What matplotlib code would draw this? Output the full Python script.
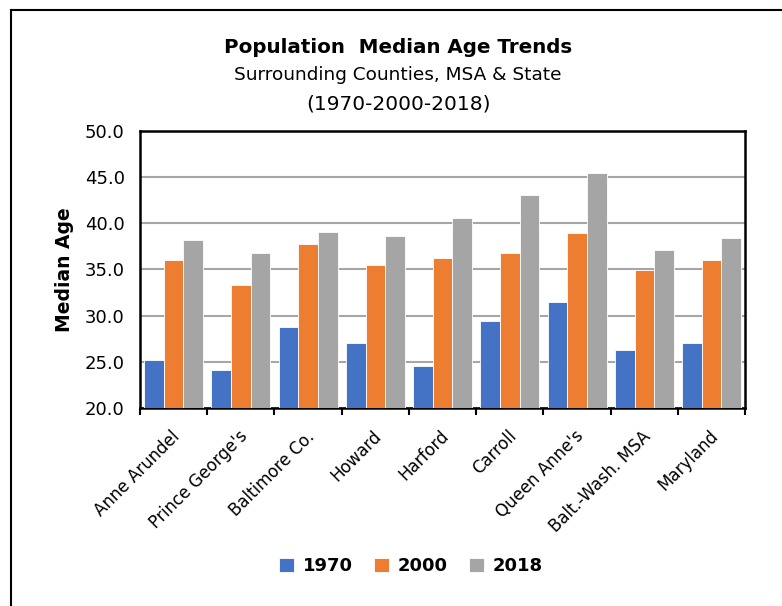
import matplotlib.pyplot as plt
import matplotlib.transforms as mtransforms
from matplotlib.lines import Line2D
import numpy as np

areas = ["Anne Arundel", "Prince George's", "Baltimore Co.", "Howard", "Harford",
         "Carroll", "Queen Anne's", "Balt.-Wash. MSA", "Maryland"]
years = ["1970", "2000", "2018"]
age_1970 = [25.2, 24.1, 28.8, 27.0, 24.5, 29.4, 31.5, 26.3, 27.0]
age_2000 = [36.0, 33.3, 37.7, 35.5, 36.2, 36.8, 38.9, 34.9, 36.0]
age_2018 = [38.2, 36.8, 39.1, 38.6, 40.6, 43.1, 45.4, 37.1, 38.4]
colors = ["#4472C4", "#ED7D31", "#A5A5A5"]

plt.rcParams['font.family'] = ['DejaVu Sans']

fig = plt.figure(figsize=(7.82, 6.06), dpi=100)
ax = fig.add_axes([0.179, 0.327, 0.774, 0.457])

x = np.arange(len(areas))
w = 0.293
for i, (vals, yr) in enumerate(zip([age_1970, age_2000, age_2018], years)):
    ax.bar(x + (i - 1) * w, vals, width=w, color=colors[i], edgecolor="white",
           linewidth=0.6, label=yr, zorder=3)

ax.set_ylim(20, 50)
ax.set_xlim(-0.5, len(areas) - 0.5)
ax.set_yticks(np.arange(20, 50.1, 5))
ax.set_yticklabels([f"{v:.1f}" for v in np.arange(20, 50.1, 5)], fontsize=13)
ax.tick_params(axis="y", length=0, pad=11)
ax.yaxis.grid(True, color="#A6A6A6", linewidth=1.5, zorder=0)
ax.set_axisbelow(True)

# ticks at category boundaries
ax.set_xticks(np.arange(-0.5, len(areas)), minor=False)
ax.set_xticklabels([])
ax.tick_params(axis="x", which="major", direction="out", length=5, width=1.5)
ax.set_xticks(x, minor=True)
ax.set_xticklabels(areas, minor=True, rotation=45, ha="right",
                   rotation_mode="anchor", fontsize=12)
ax.tick_params(axis="x", which="minor", length=0, pad=14)
offset = mtransforms.ScaledTranslation(-2 / 72, 0, fig.dpi_scale_trans)
for lbl in ax.xaxis.get_minorticklabels():
    lbl.set_transform(lbl.get_transform() + offset)

for s in ax.spines.values():
    s.set_color("black")
    s.set_linewidth(1.8)

ax.set_ylabel("Median Age", fontsize=13.5, fontweight="bold", labelpad=8)

fig.text(0.509, 0.922, "Population  Median Age Trends", ha="center", va="center",
         fontsize=14.3, fontweight="bold")
fig.text(0.509, 0.876, "Surrounding Counties, MSA & State", ha="center", va="center",
         fontsize=13.3)
fig.text(0.509, 0.828, "(1970-2000-2018)", ha="center", va="center", fontsize=14.5)

fig.legend(loc="center", bbox_to_anchor=(0.5256, 0.066), ncol=3, frameon=False,
           prop={"size": 13, "weight": "bold"}, handlelength=0.8, handleheight=0.8,
           columnspacing=1.2, handletextpad=0.5)

# outer frame lines
fig.add_artist(Line2D([0.0145, 1.0], [0.984, 0.984], color="black", linewidth=1.5,
                      transform=fig.transFigure))
fig.add_artist(Line2D([0.0145, 0.0145], [0.0, 0.984], color="black", linewidth=1.5,
                      transform=fig.transFigure))

fig.savefig("out.png", dpi=100)
